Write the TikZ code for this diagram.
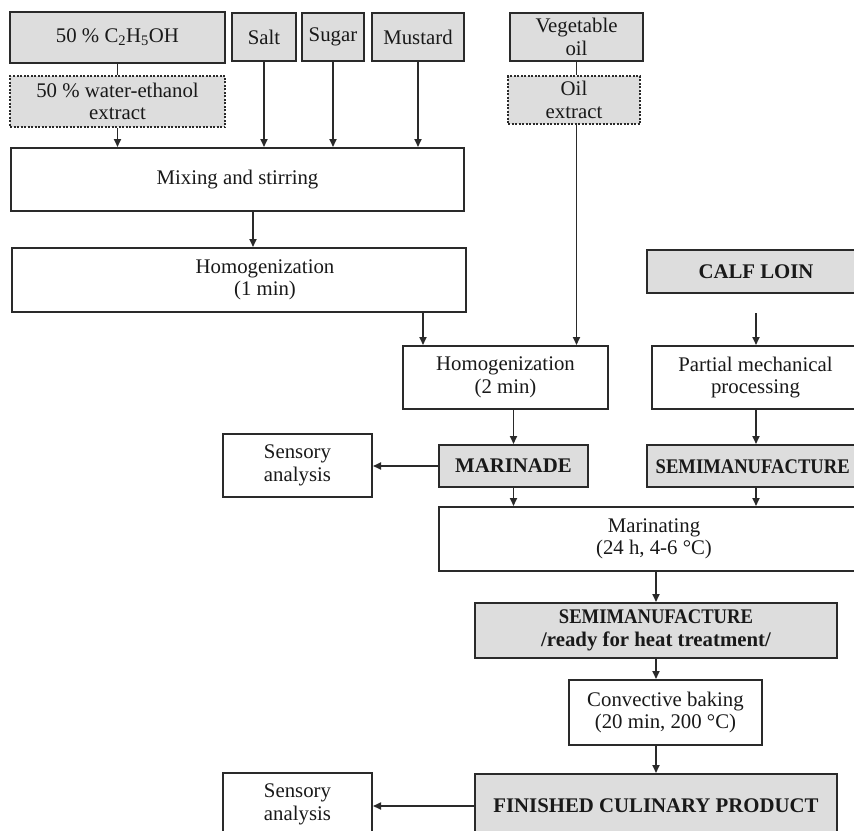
\documentclass[tikz,border=0pt]{standalone}
\usepackage{fontspec}
\usepackage{graphicx}
\setmainfont{Liberation Serif}
\usetikzlibrary{arrows.meta}
\definecolor{gfill}{HTML}{DDDDDD}
\definecolor{lc}{HTML}{2A2A2A}
\newcommand{\narrowtxt}[1]{\scalebox{0.895}[1]{#1}}
\begin{document}
\begin{tikzpicture}[x=1pt,y=-1pt,
 box/.style={draw=lc, line width=2pt, fill=white, inner sep=0pt, align=center,
   font=\fontsize{20.8}{22.5}\selectfont, text=black!90},
 gbox/.style={box, fill=gfill},
 dbox/.style={gbox, dash pattern=on 2pt off 1.5pt, line width=1.7pt},
 bbox/.style={gbox, font=\fontsize{20.8}{22.5}\selectfont\bfseries},
 txt/.style={align=center, inner sep=0pt, font=\fontsize{20.8}{22.5}\selectfont, text=black!90},
 arr/.style={draw=lc, line width=1.7pt, -{Triangle[length=8pt,width=7pt]}},
 ln/.style={draw=lc, line width=1.7pt}
]
\useasboundingbox (0,0) rectangle (854,830);
\clip (0,0) rectangle (854,830);

% top row
\node[gbox, minimum width=215pt, minimum height=51pt] (eth) at (117.5,37.5) {50 \% C\textsubscript{2}H\textsubscript{5}OH};
\node[gbox, minimum width=64pt, minimum height=48pt] (salt) at (264,37) {Salt};
\node[gbox, minimum width=62pt, minimum height=48pt] (sugar) at (333,37) {Sugar};
\node[gbox, minimum width=92pt, minimum height=48pt] (must) at (418,37) {Mustard};
\node[gbox, minimum width=133pt, minimum height=48pt] (veg) at (576.5,37) {Vegetable\\oil};

\node[dbox, minimum width=215pt, minimum height=51pt] (ext) at (117.5,101.5) {50 \% water-ethanol\\extract};
\node[dbox, minimum width=132pt, minimum height=48pt] (oil) at (574,100) {Oil\\extract};

\node[box, minimum width=453pt, minimum height=63pt] (mix) at (237.5,179.5) {Mixing and stirring};
\node[box, minimum width=454pt, minimum height=64pt] (h1) at (239,280) {};
\node[txt] (h1t) at (265,280) {Homogenization\\(1 min)};

\node[box, minimum width=205pt, minimum height=63pt] (h2) at (505.5,377.5) {Homogenization\\(2 min)};
\node[bbox, minimum width=218pt, minimum height=43pt] (calf) at (756,271.5) {CALF LOIN};
\node[box, minimum width=207pt, minimum height=63pt] (pm) at (755.5,377.5) {Partial mechanical\\processing};

\node[bbox, minimum width=149pt, minimum height=42pt] (mar) at (513.5,466) {MARINADE};
\node[bbox, minimum width=224pt, minimum height=42pt] (semi) at (759,466) {};
\node[txt, anchor=west, font=\fontsize{20.8}{22.5}\selectfont\bfseries] (semit) at (655.5,467) {\narrowtxt{SEMIMANUFACTURE}};
\node[box, minimum width=149pt, minimum height=63pt] (sen1) at (297.5,465.5) {Sensory\\analysis};

\node[box, minimum width=430pt, minimum height=64pt] (marin) at (654,539) {Marinating\\(24 h, 4-6 °C)};
\node[bbox, minimum width=362pt, minimum height=55pt] (ready) at (656,630.5) {\narrowtxt{SEMIMANUFACTURE}\\/ready for heat treatment/};
\node[box, minimum width=193pt, minimum height=65pt] (conv) at (665.5,712.5) {Convective baking\\(20 min, 200 °C)};
\node[bbox, minimum width=362pt, minimum height=64pt] (fin) at (656,806) {FINISHED CULINARY PRODUCT};
\node[box, minimum width=149pt, minimum height=63pt] (sen2) at (297.5,804.5) {Sensory\\analysis};

% helper coordinates
\coordinate (xB) at (253,0);
\coordinate (xA) at (423,0);
\coordinate (cf) at (756,313);

% connectors
\draw[ln] (eth.south) -- (ext.north);
\draw[ln] (veg.south) -- (veg.south |- oil.north);
\draw[arr] (ext.south) -- (ext.south |- mix.north);
\draw[arr] (salt.south) -- (salt.south |- mix.north);
\draw[arr] (sugar.south) -- (sugar.south |- mix.north);
\draw[arr] (must.south) -- (must.south |- mix.north);
\draw[arr] (veg.south |- oil.south) -- (veg.south |- h2.north);
\draw[arr] (mix.south -| xB) -- (h1.north -| xB);
\draw[arr] (h1.south -| xA) -- (h2.north -| xA);
\draw[arr] (cf) -- (cf |- pm.north);
\draw[arr] (pm.south -| cf) -- (semi.north -| cf);
\draw[arr] (mar.north |- h2.south) -- (mar.north);
\draw[arr] (mar.south) -- (mar.south |- marin.north);
\draw[arr] (semi.south -| cf) -- (marin.north -| cf);
\draw[arr] (mar.west) -- (mar.west -| sen1.east);
\draw[arr] (ready.north |- marin.south) -- (ready.north);
\draw[arr] (ready.south) -- (ready.south |- conv.north);
\draw[arr] (fin.north |- conv.south) -- (fin.north);
\draw[arr] (fin.west) -- (fin.west -| sen2.east);
\end{tikzpicture}
\end{document}
